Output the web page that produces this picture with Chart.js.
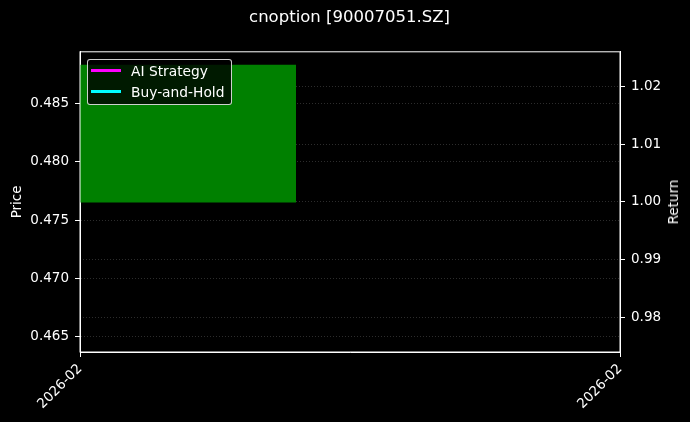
<!DOCTYPE html>
<html>
<head>
<meta charset="utf-8">
<script src="https://cdn.jsdelivr.net/npm/chart.js@4/dist/chart.umd.min.js"></script>
<style>
  html, body { margin: 0; padding: 0; background: #000; }
  #wrap { position: relative; width: 690px; height: 422px; }
  #legend {
    position: absolute; left: 87px; top: 59px;
    background: rgba(0, 0, 0, 0.8);
    border: 1px solid rgba(255, 255, 255, 0.8);
    border-radius: 3px;
    padding: 0 7px 2px 3px;
    font: 13.8px "DejaVu Sans", sans-serif; color: #fff;
  }
  #legend div { display: flex; align-items: center; height: 21px; }
  #legend span.sw { display: inline-block; width: 30px; height: 2.5px; margin-right: 10px; }
  #returnTitle {
    position: absolute; left: 673px; top: 202px;
    transform: translate(-50%, -50%) rotate(-90deg);
    font: 13.5px "DejaVu Sans", sans-serif; color: #fff; white-space: nowrap;
  }
</style>
</head>
<body>
<div id="wrap">
  <canvas id="chart" width="690" height="422"></canvas>
  <div id="legend"></div>
  <div id="returnTitle">Return</div>
</div>
<script>
//############################
//######   Data     ########
//############################

const dates = ["2026-02", "2026-02"];
// one candle: open / close of the day
const candleOpen = [0.4765, null];
const candleClose = [0.4883, null];
const aiReturn = [1.0, null];
const holdReturn = [1.0, null];
const priceTicks = [0.465, 0.470, 0.475, 0.480, 0.485];
const returnTicks = [0.98, 0.99, 1.00, 1.01, 1.02];

const FONT = "DejaVu Sans";
const TICK_SIZE = 13.5;
Chart.defaults.font.family = FONT;
Chart.defaults.color = "#fff";

const candles = candleOpen.map(function (o, i) {
  return o === null ? null : [o, candleClose[i]];
});

const gridStyle = {
  color: "rgba(255,255,255,0.22)",
  lineWidth: 0.8,
  tickColor: "#fff",
  tickLength: 5,
  tickWidth: 1
};

// white box round the plot area
const frame = {
  id: "frame",
  afterDatasetsDraw(chart) {
    const a = chart.chartArea, ctx = chart.ctx;
    ctx.save();
    ctx.strokeStyle = "#fff";
    ctx.lineWidth = 1;
    ctx.strokeRect(a.left, a.top, a.right - a.left, a.bottom - a.top);
    ctx.restore();
  }
};

const config = {
  type: "bar",
  data: {
    labels: dates,
    datasets: [
      {
        type: "line",
        label: "AI Strategy",
        data: aiReturn,
        borderColor: "#ff00ff",
        backgroundColor: "#ff00ff",
        borderWidth: 2,
        pointRadius: 0,
        yAxisID: "y1"
      },
      {
        type: "line",
        label: "Buy-and-Hold",
        data: holdReturn,
        borderColor: "#00ffff",
        backgroundColor: "#00ffff",
        borderWidth: 2,
        pointRadius: 0,
        yAxisID: "y1"
      },
      {
        label: "Candle",
        data: candles,
        backgroundColor: "#008000",
        borderWidth: 0,
        barPercentage: 0.8,
        categoryPercentage: 1.0,
        clip: 0,
        yAxisID: "y"
      }
    ]
  },
  options: {
    responsive: false,
    animation: false,
    layout: { padding: { left: 9, right: 0, top: 0, bottom: 0 } },
    plugins: {
      legend: { display: false },
      tooltip: { enabled: false },
      title: {
        display: true,
        text: "cnoption [90007051.SZ]",
        color: "#fff",
        font: { size: 16.5, weight: "normal" },
        padding: { top: 8, bottom: 24 }
      }
    },
    scales: {
      x: {
        offset: false,
        grid: Object.assign({}, gridStyle, { drawOnChartArea: false, offset: false }),
        border: { color: "#fff" },
        ticks: {
          maxRotation: 45, minRotation: 45, padding: 4,
          color: "#fff", font: { size: TICK_SIZE }, autoSkip: false
        },
        afterFit(scale) { scale.height = 70; }
      },
      y: {
        position: "left",
        min: 0.46371,
        max: 0.4894,
        grid: gridStyle,
        border: { color: "#fff", dash: [1, 2] },
        afterBuildTicks(scale) {
          scale.ticks = priceTicks.map(function (v) { return { value: v }; });
        },
        ticks: {
          padding: 6, color: "#fff", font: { size: TICK_SIZE },
          callback: function (v) { return Number(v).toFixed(3); }
        },
        title: { display: true, text: "Price", color: "#fff", font: { size: 13.5 }, padding: { top: 0, bottom: 0 } },
        afterFit(scale) { scale.width = 71; }
      },
      y1: {
        position: "right",
        min: 0.974,
        max: 1.026,
        grid: gridStyle,
        border: { color: "#fff", dash: [1, 2] },
        afterBuildTicks(scale) {
          scale.ticks = returnTicks.map(function (v) { return { value: v }; });
        },
        ticks: {
          padding: 6, color: "#fff", font: { size: TICK_SIZE },
          callback: function (v) { return Number(v).toFixed(2); }
        },
        afterFit(scale) { scale.width = 70; }
      }
    }
  },
  plugins: [frame]
};

const myChart = new Chart(document.getElementById("chart"), config);

// legend box inside the plot, built from the line datasets
const legendEl = document.getElementById("legend");
myChart.data.datasets.filter(function (d) { return d.type === "line"; }).forEach(function (d) {
  const row = document.createElement("div");
  const sw = document.createElement("span");
  sw.className = "sw";
  sw.style.background = d.borderColor;
  row.appendChild(sw);
  row.appendChild(document.createTextNode(d.label));
  legendEl.appendChild(row);
});
</script>
</body>
</html>
